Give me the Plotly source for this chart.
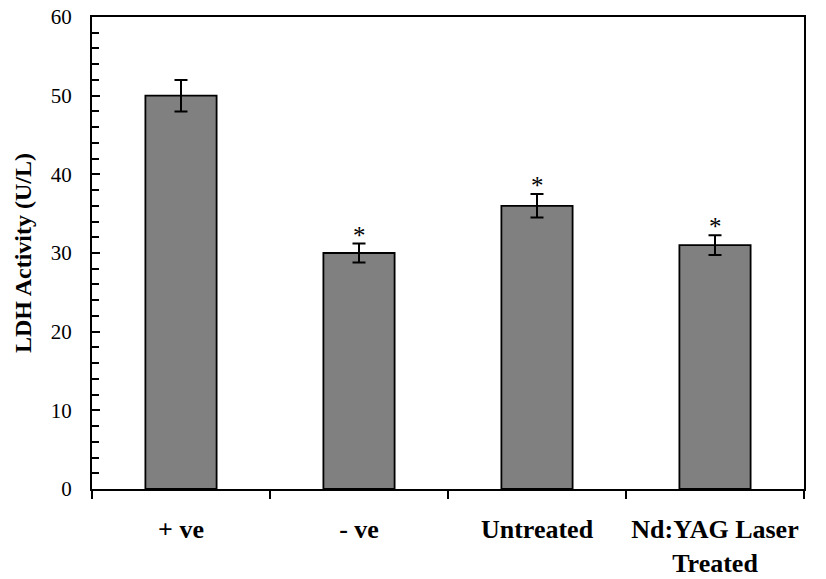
import plotly.graph_objects as go

categories = ["+ ve", "- ve", "Untreated", "Nd:YAG Laser<br>Treated"]
values = [50, 30, 36, 31]
errors = [2.0, 1.2, 1.5, 1.25]
marks = ["", "*", "*", "*"]
y_ticks = [0, 10, 20, 30, 40, 50, 60]

font_family = "Liberation Serif, Times New Roman, serif"

fig = go.Figure()
fig.add_trace(go.Bar(
    x=categories, y=values,
    width=0.4,
    marker=dict(color="#808080", line=dict(color="black", width=1.8)),
    error_y=dict(type="data", array=errors, color="black", thickness=2, width=6.5),
    hoverinfo="skip",
))

for c, v, e, m in zip(categories, values, errors, marks):
    if m:
        fig.add_annotation(x=c, y=v + e, text=m, showarrow=False,
                           yanchor="bottom", yshift=-7,
                           font=dict(family=font_family, size=25, color="black"))

fig.update_layout(
    width=826, height=579,
    margin=dict(l=92, r=22, t=17, b=90),
    plot_bgcolor="white", paper_bgcolor="white",
    showlegend=False,
    font=dict(family=font_family, color="black"),
    xaxis=dict(
        type="category", tickson="boundaries", automargin=False,
        ticks="outside", ticklen=8, tickwidth=2, tickcolor="black",
        showline=True, linecolor="black", linewidth=2, mirror=True,
        showgrid=False, ticklabelstandoff=16,
        tickfont=dict(family=font_family, size=26, color="black", weight="bold"),
    ),
    yaxis=dict(
        range=[0, 60], tickvals=y_ticks, automargin=False,
        ticks="inside", ticklen=8, tickwidth=2, tickcolor="black",
        minor=dict(dtick=2, ticks="inside", ticklen=7, tickwidth=2, tickcolor="black", showgrid=False),
        showline=True, linecolor="black", linewidth=2, mirror=True,
        showgrid=False, zeroline=False, ticklabelstandoff=14,
        tickfont=dict(family=font_family, size=21, color="black"),
        title=dict(text="<b>LDH Activity (U/L)</b>", standoff=12,
                   font=dict(family=font_family, size=24, color="black")),
    ),
)

fig.write_html(
    "out.html",
    config={"displayModeBar": False},
    post_script="document.body.style.margin='0';document.body.style.overflow='hidden';",
)
